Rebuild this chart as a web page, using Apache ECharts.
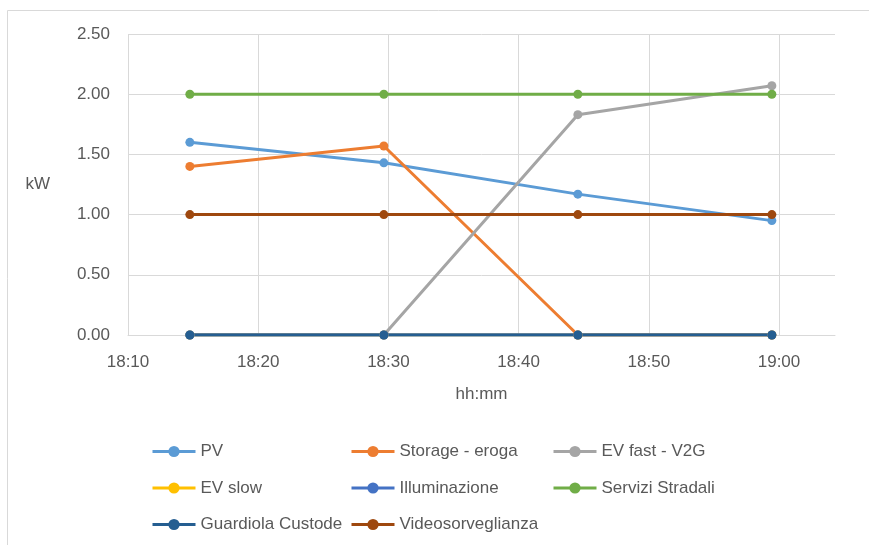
<!DOCTYPE html>
<html>
<head>
<meta charset="utf-8">
<script src="https://cdn.jsdelivr.net/npm/echarts@6/dist/echarts.min.js"></script>
<style>html,body{margin:0;padding:0;background:#fff}#c{width:869px;height:545px}</style>
</head>
<body>
<div id="c"></div>
<script>
// minutes after 18:00
const times = [14.75, 29.65, 44.55, 59.45];
const seriesNames = ['PV', 'Storage - eroga', 'EV fast - V2G', 'EV slow', 'Illuminazione', 'Servizi Stradali', 'Guardiola Custode', 'Videosorveglianza'];
const pv = [1.60, 1.43, 1.17, 0.95];
const storage = [1.40, 1.57, 0, 0];
const evFast = [0, 0, 1.83, 2.07];
const evSlow = [0, 0, 0, 0];
const illuminazione = [0, 0, 0, 0];
const servizi = [2.00, 2.00, 2.00, 2.00];
const guardiola = [0, 0, 0, 0];
const video = [1.00, 1.00, 1.00, 1.00];
const colors = ['#5B9BD5', '#ED7D31', '#A5A5A5', '#FFC000', '#4472C4', '#70AD47', '#255E91', '#9E480E'];
const values = [pv, storage, evFast, evSlow, illuminazione, servizi, guardiola, video];

const font = 'Liberation Sans';
const textColor = '#595959';

const series = seriesNames.map((n, i) => ({
  name: n,
  type: 'line',
  data: times.map((t, j) => [t, values[i][j]]),
  symbol: 'circle',
  symbolSize: 9,
  lineStyle: { width: 3, color: colors[i] },
  itemStyle: { color: colors[i] },
  emphasis: { disabled: true },
  animation: false
}));

function legendCol(left, names) {
  return {
    orient: 'vertical', left: left, top: 443, padding: 0,
    data: names, itemWidth: 43, itemHeight: 14, itemGap: 19.5,
    lineStyle: { width: 3 },
    textStyle: { fontFamily: font, fontSize: 17, color: textColor },
    selectedMode: false
  };
}

const chart = echarts.init(document.getElementById('c'), null, { renderer: 'canvas' });
chart.setOption({
  color: colors,
  animation: false,
  graphic: [{ type: 'rect', shape: { x: 7.5, y: 10.5, width: 900, height: 600 }, style: { fill: 'none', stroke: '#d9d9d9', lineWidth: 1 }, silent: true }],
  grid: { left: 128, top: 34, right: 34, bottom: 210 },
  legend: [
    legendCol(151, ['PV', 'EV slow', 'Guardiola Custode']),
    legendCol(350, ['Storage - eroga', 'Illuminazione', 'Videosorveglianza']),
    legendCol(552, ['EV fast - V2G', 'Servizi Stradali'])
  ],
  xAxis: {
    type: 'value', min: 10, max: 64.3, interval: 10,
    name: 'hh:mm', nameLocation: 'middle', nameGap: 51,
    nameTextStyle: { fontFamily: font, fontSize: 17, color: textColor },
    axisLine: { show: true, lineStyle: { color: '#d9d9d9', width: 1 } },
    axisTick: { show: false },
    axisLabel: {
      showMaxLabel: false, margin: 19, fontFamily: font, fontSize: 17, color: textColor,
      formatter: v => { const m = Math.round(v); const h = 18 + Math.floor(m / 60); const mm = m % 60; return h + ':' + (mm < 10 ? '0' : '') + mm; }
    },
    splitLine: { show: true, showMaxLine: false, lineStyle: { color: '#d9d9d9', width: 1 } }
  },
  yAxis: {
    type: 'value', min: 0, max: 2.5, interval: 0.5,
    name: 'kW', nameLocation: 'middle', nameRotate: 0, nameGap: 78,
    nameTextStyle: { fontFamily: font, fontSize: 17, color: textColor, padding: [6, 0, 0, 0] },
    axisLine: { show: false },
    axisTick: { show: false },
    axisLabel: { margin: 18, fontFamily: font, fontSize: 17, color: textColor, formatter: v => v.toFixed(2) },
    splitLine: { show: true, lineStyle: { color: '#d9d9d9', width: 1 } }
  },
  series: series
});
</script>
</body>
</html>
